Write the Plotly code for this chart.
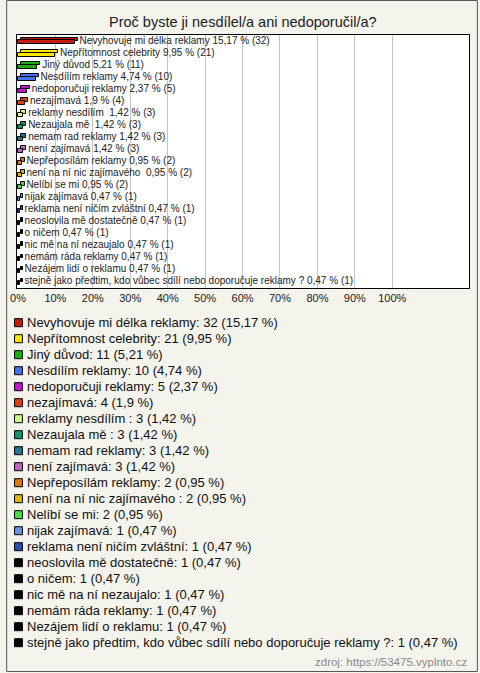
import plotly.graph_objects as go

title = "Proč byste ji nesdílel/a ani nedoporučil/a?"
categories = [
    "Nevyhovuje mi délka reklamy", "Nepřítomnost celebrity", "Jiný důvod",
    "Nesdílím reklamy", "nedoporučuji reklamy", "nezajímavá", "reklamy nesdílím ",
    "Nezaujala mě ", "nemam rad reklamy", "není zajímavá", "Nepřeposílám reklamy",
    "není na ní nic zajímavého ", "Nelíbí se mi", "nijak zajímavá",
    "reklama není ničím zvláštní", "neoslovila mě dostatečně", "o ničem",
    "nic mě na ní nezaujalo", "nemám ráda reklamy", "Nezájem lidí o reklamu",
    "stejně jako předtim, kdo vůbec sdílí nebo doporučuje reklamy ?",
]
counts = [32, 21, 11, 10, 5, 4, 3, 3, 3, 3, 2, 2, 2, 1, 1, 1, 1, 1, 1, 1, 1]
percents = [15.17, 9.95, 5.21, 4.74, 2.37, 1.9, 1.42, 1.42, 1.42, 1.42, 0.95, 0.95,
            0.95, 0.47, 0.47, 0.47, 0.47, 0.47, 0.47, 0.47, 0.47]
percent_labels = ["15,17", "9,95", "5,21", "4,74", "2,37", "1,9", "1,42", "1,42", "1,42",
                  "1,42", "0,95", "0,95", "0,95", "0,47", "0,47", "0,47", "0,47", "0,47",
                  "0,47", "0,47", "0,47"]
colors = ["#c41e10", "#ffe600", "#14b014", "#4272ee", "#c614d0", "#e23c10", "#c8ff84",
          "#12966a", "#22788e", "#c062c2", "#e27a12", "#e2b40e", "#44e044", "#6494e2",
          "#2352b2", "#000000", "#000000", "#000000", "#000000", "#000000", "#000000"]
x_ticks = [0, 10, 20, 30, 40, 50, 60, 70, 80, 90, 100]
source = "zdroj: https://53475.vyplnto.cz"

W, H = 480, 673
L, R, T, B = 11, 470, 35, 288
FONT = "Liberation Sans, Arial, sans-serif"

def pxx(px):
    return (px - L) / (R - L)

def pxy(py):
    return (B - py) / (B - T)

n = len(categories)
idx = list(range(n))
depth = 0.8  # 3D depth in % units

fig = go.Figure()
# back (top) face of the 3D bars
fig.add_trace(go.Bar(
    orientation="h", y=[i - 0.13 for i in idx], x=percents, base=[depth] * n,
    width=0.3, marker=dict(color=colors, line=dict(color="#000", width=1)),
    hoverinfo="skip", showlegend=False))
# front face
fig.add_trace(go.Bar(
    orientation="h", y=[i + 0.12 for i in idx], x=percents,
    width=0.33, marker=dict(color=colors, line=dict(color="#000", width=1)),
    showlegend=False))
# bar labels
bar_texts = [f"{c} {p} % ({k})" for c, p, k in zip(categories, percent_labels, counts)]
fig.add_trace(go.Scatter(
    x=[p + depth + 0.5 for p in percents], y=idx, mode="text", text=bar_texts,
    textposition="middle right", textfont=dict(size=10, color="#222", family=FONT),
    hoverinfo="skip", showlegend=False))

shapes = [dict(type="rect", xref="paper", yref="paper",
               x0=pxx(0.5), x1=pxx(478.5), y0=pxy(0.5), y1=pxy(671.5),
               line=dict(color="#555", width=1), fillcolor="rgba(0,0,0,0)", layer="below")]
annotations = [dict(text=title, xref="paper", yref="paper", x=pxx(240), y=pxy(22),
                    xanchor="center", yanchor="middle", showarrow=False,
                    font=dict(size=14.5, color="#222", family=FONT))]

for i, (c, k, p) in enumerate(zip(categories, counts, percent_labels)):
    cy = 322.7 + 16.0 * i
    annotations.append(dict(text=f"{c}: {k} ({p} %)", xref="paper", yref="paper",
                            x=pxx(19), y=pxy(cy), xanchor="left", yanchor="middle",
                            showarrow=False, font=dict(size=13, color="#111", family=FONT)))
    shapes.append(dict(type="rect", xref="paper", yref="paper",
                       x0=pxx(8.5), x1=pxx(16.5), y0=pxy(cy + 4), y1=pxy(cy - 4),
                       line=dict(color="#000", width=1), fillcolor=colors[i]))

annotations.append(dict(text=source, xref="paper", yref="paper", x=pxx(470), y=pxy(661.5),
                        xanchor="right", yanchor="middle", showarrow=False,
                        font=dict(size=11.5, color="#8a8a8a", family=FONT)))

fig.update_layout(
    width=W, height=H, margin=dict(l=L, r=W - R, t=T, b=H - B),
    paper_bgcolor="#f4f3ec", plot_bgcolor="#ffffff",
    barmode="overlay", bargap=0,
    font=dict(family=FONT, color="#222"),
    xaxis=dict(range=[-0.26, 120.5], tickvals=x_ticks, ticktext=[f"{t}%" for t in x_ticks],
               showgrid=True, gridcolor="#c4c4c4", gridwidth=1, zeroline=False,
               showline=True, linecolor="#000", linewidth=1, mirror=True,
               ticks="", tickfont=dict(size=11, color="#222", family=FONT), fixedrange=True),
    yaxis=dict(range=[n - 0.5, -0.5], showticklabels=False, showgrid=False, zeroline=False,
               showline=True, linecolor="#000", linewidth=1, mirror=True, ticks="",
               fixedrange=True),
    shapes=shapes, annotations=annotations, showlegend=False,
)

fig.write_html("out.html", config={"displayModeBar": False},
               post_script="document.body.style.margin='0';document.body.style.overflow='hidden';")
